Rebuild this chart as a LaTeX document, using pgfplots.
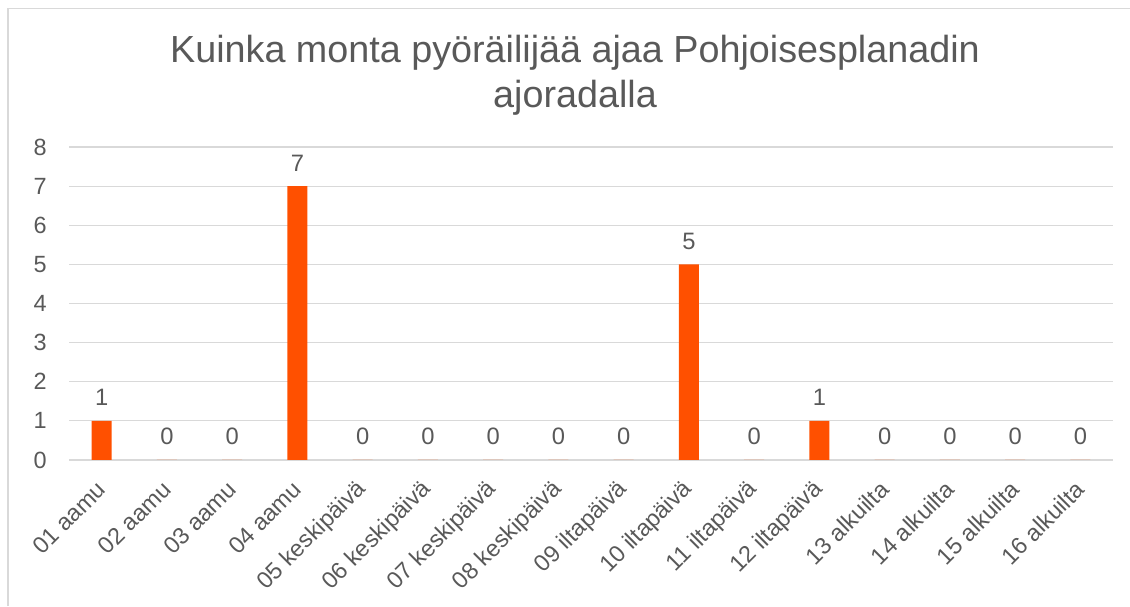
\documentclass[border=0pt]{standalone}
\usepackage{pgfplots}
\pgfplotsset{compat=1.18}
\usepackage{fontspec}
\setmainfont{Liberation Sans}
\definecolor{txt}{HTML}{595959}
\definecolor{grd}{HTML}{D9D9D9}
\definecolor{barc}{HTML}{FF5000}
\begin{document}
\begin{tikzpicture}[x=0.75pt,y=0.75pt]
\useasboundingbox (0,0) rectangle (1130,606);
\draw[grd, line width=1.1pt] (8,0) -- (8,597.5) -- (1130,597.5);
\node[anchor=base, text=txt, inner sep=0pt, font=\fontsize{28.3}{34}\selectfont] at (575,543) {Kuinka monta pyöräilijää ajaa Pohjoisesplanadin};
\node[anchor=base, text=txt, inner sep=0pt, font=\fontsize{28.3}{34}\selectfont] at (575,498) {ajoradalla};
\begin{axis}[
  at={(51.75pt,109.5pt)}, anchor=south west,
  scale only axis, width=783pt, height=234.75pt,
  xmin=-0.5, xmax=15.5, ymin=0, ymax=8,
  ytick={0,1,2,3,4,5,6,7,8},
  xtick={0,1,...,15},
  xticklabels={01 aamu,02 aamu,03 aamu,04 aamu,05 keskipäivä,06 keskipäivä,07 keskipäivä,08 keskipäivä,09 iltapäivä,10 iltapäivä,11 iltapäivä,12 iltapäivä,13 alkuilta,14 alkuilta,15 alkuilta,16 alkuilta},
  axis line style={draw=none},
  major tick length=0pt,
  ymajorgrids,
  grid style={grd, line width=0.9pt},
  /pgf/number format/assume math mode=true,
  tick label style={text=txt, font=\fontsize{17.6}{20}\selectfont},
  yticklabel style={anchor=east, inner sep=0pt, xshift=-16.5pt},
  xticklabel style={xshift=0pt, yshift=-19pt, rotate=45, anchor=east, inner sep=0pt},
  clip=false,
  ybar, bar width=15pt,
  nodes near coords,
  every node near coord/.append style={text=txt, font=\fontsize{17.8}{20}\selectfont, anchor=south, inner sep=0pt, yshift=11pt},
]
\addplot[fill=barc, draw=none] coordinates {
(0,1) (1,0) (2,0) (3,7) (4,0) (5,0) (6,0) (7,0)
(8,0) (9,5) (10,0) (11,1) (12,0) (13,0) (14,0) (15,0)
};
\end{axis}
\end{tikzpicture}
\end{document}
